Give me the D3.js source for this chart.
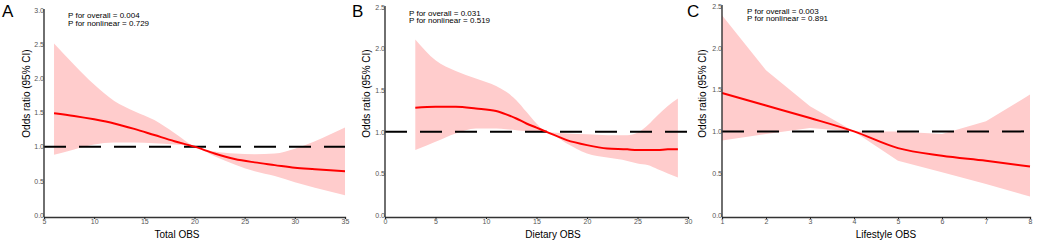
<!DOCTYPE html>
<html>
<head>
<meta charset="utf-8">
<script src="https://cdn.jsdelivr.net/npm/d3@7"></script>
<style>
  body { margin: 0; background: #fff; }
  svg { display: block; font-family: "Liberation Sans", Arial, sans-serif; }
</style>
</head>
<body>
<div id="chart"></div>
<script>
const panelLetters = ["A", "B", "C"];
const xTitles = ["Total OBS", "Dietary OBS", "Lifestyle OBS"];
const pOverall = ["0.004", "0.031", "0.003"];
const pNonlinear = ["0.729", "0.519", "0.891"];

const totalX = [6, 8, 10, 12, 14, 16, 18, 20, 22, 24, 26, 28, 30, 32, 35];
const totalOR = [1.49, 1.45, 1.40, 1.34, 1.26, 1.17, 1.08, 1.00, 0.90, 0.82, 0.77, 0.73, 0.69, 0.67, 0.64];
const totalUpper = [2.51, 2.20, 1.91, 1.67, 1.52, 1.39, 1.20, 1.00, 0.93, 0.90, 0.89, 0.90, 0.97, 1.08, 1.28];
const totalLower = [0.88, 0.96, 1.03, 1.06, 1.06, 1.05, 1.03, 1.00, 0.86, 0.74, 0.64, 0.57, 0.48, 0.40, 0.29];
const totalTicks = [5, 10, 15, 20, 25, 30, 35];
const totalYTicks = [0, 0.5, 1, 1.5, 2, 2.5, 3];

const dietaryX = [3, 5, 7, 9, 11, 12, 13, 14, 15, 16, 18, 20, 22, 24, 25, 26, 27, 28, 29];
const dietaryOR = [1.29, 1.30, 1.30, 1.28, 1.25, 1.21, 1.16, 1.10, 1.05, 1.00, 0.90, 0.84, 0.80, 0.79, 0.78, 0.78, 0.78, 0.79, 0.79];
const dietaryUpper = [2.11, 1.86, 1.73, 1.64, 1.55, 1.48, 1.38, 1.24, 1.10, 1.00, 0.98, 0.97, 0.96, 0.96, 0.99, 1.08, 1.20, 1.31, 1.40];
const dietaryLower = [0.78, 0.88, 0.98, 1.04, 1.04, 1.03, 1.02, 1.01, 1.01, 1.00, 0.86, 0.74, 0.69, 0.65, 0.62, 0.60, 0.55, 0.50, 0.45];
const dietaryTicks = [0, 5, 10, 15, 20, 25, 30];
const dietaryYTicks = [0, 0.5, 1, 1.5, 2, 2.5];

const lifestyleX = [1, 2, 3, 4, 5, 6, 7, 8];
const lifestyleOR = [1.46, 1.31, 1.16, 1.00, 0.80, 0.71, 0.65, 0.58];
const lifestyleUpper = [2.39, 1.73, 1.30, 1.00, 1.00, 0.97, 1.12, 1.44];
const lifestyleLower = [0.89, 0.97, 1.04, 1.00, 0.65, 0.51, 0.37, 0.22];
const lifestyleTicks = [1, 2, 3, 4, 5, 6, 7, 8];
const lifestyleYTicks = [0, 0.5, 1, 1.5, 2, 2.5];

const width = 1038, height = 242;
const axisY = 217, zeroY = 215;

const svg = d3.select("#chart").append("svg")
    .attr("width", width)
    .attr("height", height);

const panels = [
    { xs: totalX, or: totalOR, up: totalUpper, lo: totalLower, ticks: totalTicks, yTicks: totalYTicks,
      xRange: [44, 345], yTop: 10, letterX: 2, pX: 68, pY: 18, pGap: 8, yLabX: 30, xLabX: 177, bandCurve: d3.curveMonotoneX },
    { xs: dietaryX, or: dietaryOR, up: dietaryUpper, lo: dietaryLower, ticks: dietaryTicks, yTicks: dietaryYTicks,
      xRange: [385, 688], yTop: 7, letterX: 352, pX: 409, pY: 15.5, pGap: 7, yLabX: 370, xLabX: 553, bandCurve: d3.curveMonotoneX },
    { xs: lifestyleX, or: lifestyleOR, up: lifestyleUpper, lo: lifestyleLower, ticks: lifestyleTicks, yTicks: lifestyleYTicks,
      xRange: [722, 1030], yTop: 6, letterX: 687, pX: 747, pY: 14, pGap: 7, yLabX: 706, xLabX: 886, bandCurve: d3.curveLinear }
];

panels.forEach((p, i) => {
    const g = svg.append("g");
    const x = d3.scaleLinear()
        .domain([p.ticks[0], p.ticks[p.ticks.length - 1]])
        .range(p.xRange);
    const y = d3.scaleLinear()
        .domain([0, p.yTicks[p.yTicks.length - 1]])
        .range([zeroY, p.yTop]);

    const rows = p.xs.map((v, k) => ({ x: v, or: p.or[k], up: p.up[k], lo: p.lo[k] }));

    g.append("path")
        .datum(rows)
        .attr("fill", "#ffcccc")
        .attr("d", d3.area()
            .curve(p.bandCurve)
            .x(d => x(d.x))
            .y0(d => y(d.lo))
            .y1(d => y(d.up)));

    g.append("line")
        .attr("x1", p.xRange[0])
        .attr("x2", p.xRange[1])
        .attr("y1", y(1))
        .attr("y2", y(1))
        .attr("stroke", "#000")
        .attr("stroke-width", 2)
        .attr("stroke-dasharray", "22,13");

    g.append("path")
        .datum(rows)
        .attr("fill", "none")
        .attr("stroke", "#ff0000")
        .attr("stroke-width", 2)
        .attr("d", d3.line()
            .curve(d3.curveMonotoneX)
            .x(d => x(d.x))
            .y(d => y(d.or)));

    // axes
    const yAxis = g.append("g")
        .attr("transform", `translate(${p.xRange[0]},0)`)
        .call(d3.axisLeft(y).tickValues(p.yTicks).tickFormat(d3.format(".1f")).tickSize(0).tickPadding(0));
    yAxis.select(".domain").remove();
    yAxis.selectAll("text").attr("fill", "#555").style("font-size", "7px");

    g.append("line")
        .attr("x1", p.xRange[0]).attr("x2", p.xRange[0])
        .attr("y1", p.yTop - 1).attr("y2", axisY)
        .attr("stroke", "#333").attr("stroke-width", 1.4);

    const xAxis = g.append("g")
        .attr("transform", `translate(0,${axisY})`)
        .call(d3.axisBottom(x).tickValues(p.ticks).tickFormat(d3.format("d")).tickSize(2).tickPadding(0));
    xAxis.select(".domain").attr("stroke", "#333").attr("stroke-width", 1.3);
    xAxis.selectAll(".tick line").attr("stroke", "#222");
    xAxis.selectAll("text").attr("fill", "#555").style("font-size", "7px");

    g.append("text")
        .attr("x", p.xLabX)
        .attr("y", 238)
        .attr("text-anchor", "middle")
        .style("font-size", "10px")
        .text(xTitles[i]);

    g.append("text")
        .attr("transform", `translate(${p.yLabX},93.5) rotate(-90)`)
        .attr("text-anchor", "middle")
        .style("font-size", "10px")
        .text("Odds ratio (95% CI)");

    g.append("text")
        .attr("x", p.letterX)
        .attr("y", 17)
        .style("font-size", "17px")
        .text(panelLetters[i]);

    g.append("text")
        .attr("x", p.pX)
        .attr("y", p.pY)
        .style("font-size", "8px")
        .text(`P for overall = ${pOverall[i]}`);

    g.append("text")
        .attr("x", p.pX)
        .attr("y", p.pY + p.pGap)
        .style("font-size", "8px")
        .text(`P for nonlinear = ${pNonlinear[i]}`);
});
</script>
</body>
</html>
